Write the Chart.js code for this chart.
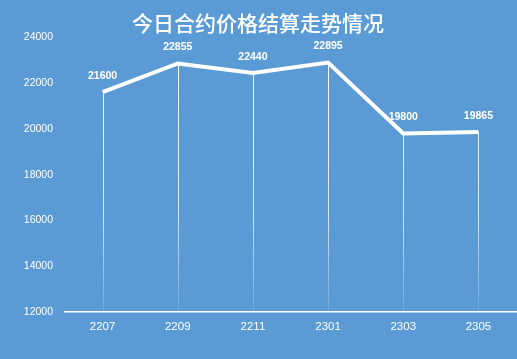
<!DOCTYPE html>
<html>
<head>
<meta charset="utf-8">
<script src="https://cdn.jsdelivr.net/npm/chart.js@4"></script>
<style>
  html, body { margin: 0; padding: 0; background: #5b9bd5; }
  #wrap { width: 517px; height: 359px; }
</style>
</head>
<body>
<div id="wrap"><canvas id="myChart"></canvas></div>
<script>
// Data
const categories = ['2207', '2209', '2211', '2301', '2303', '2305'];
const prices = [21600, 22855, 22440, 22895, 19800, 19865];
const yTicks = [12000, 14000, 16000, 18000, 20000, 22000, 24000];

const bgColor = '#5b9bd5';

// Fill canvas background
const background = {
  id: 'background',
  beforeDraw(chart) {
    const ctx = chart.ctx;
    ctx.save();
    ctx.fillStyle = bgColor;
    ctx.fillRect(0, 0, chart.width, chart.height);
    ctx.restore();
  }
};

// Vertical drop lines from each point to the axis
const dropLines = {
  id: 'dropLines',
  beforeDatasetsDraw(chart) {
    const ctx = chart.ctx;
    const area = chart.chartArea;
    const meta = chart.getDatasetMeta(0);
    const grad = ctx.createLinearGradient(0, area.top, 0, area.bottom);
    grad.addColorStop(0, 'rgba(255,255,255,1)');
    grad.addColorStop(0.65, 'rgba(255,255,255,0.75)');
    grad.addColorStop(1, 'rgba(255,255,255,0.1)');
    ctx.save();
    ctx.strokeStyle = grad;
    ctx.lineWidth = 1;
    meta.data.forEach(pt => {
      const x = Math.round(pt.x) + 0.5;
      ctx.beginPath();
      ctx.moveTo(x, pt.y);
      ctx.lineTo(x, area.bottom);
      ctx.stroke();
    });
    ctx.restore();
  }
};

// Value labels above the points
const valueLabels = {
  id: 'valueLabels',
  afterDatasetsDraw(chart) {
    const ctx = chart.ctx;
    const meta = chart.getDatasetMeta(0);
    ctx.save();
    ctx.fillStyle = '#ffffff';
    ctx.font = 'bold 10.5px "Liberation Sans", Arial, sans-serif';
    ctx.textAlign = 'center';
    ctx.textBaseline = 'middle';
    meta.data.forEach((pt, i) => {
      ctx.fillText(String(prices[i]), pt.x, pt.y - 16);
    });
    ctx.restore();
  }
};

const config = {
  type: 'line',
  data: {
    labels: categories,
    datasets: [{
      data: prices,
      borderColor: '#ffffff',
      borderWidth: 4,
      tension: 0,
      pointRadius: 0,
      pointHoverRadius: 0,
      fill: false,
      borderJoinStyle: 'miter'
    }]
  },
  options: {
    responsive: true,
    maintainAspectRatio: false,
    animation: false,
    events: [],
    layout: { padding: { left: 0, right: 1, top: 0, bottom: 17 } },
    plugins: {
      legend: { display: false },
      tooltip: { enabled: false },
      title: {
        display: true,
        text: '今日合约价格结算走势情况',
        color: '#ffffff',
        font: { family: '"Noto Sans CJK SC", sans-serif', size: 21, weight: '500', lineHeight: 1.2 },
        padding: { top: 10, bottom: 2 }
      }
    },
    scales: {
      x: {
        offset: true,
        grid: { display: false, drawTicks: false },
        border: { display: true, color: '#ffffff', width: 1.5 },
        ticks: {
          color: '#ffffff',
          padding: 8,
          maxRotation: 0,
          font: { family: '"Liberation Sans", Arial, sans-serif', size: 11.5 }
        }
      },
      y: {
        min: 12000,
        max: 24000,
        afterBuildTicks(scale) {
          scale.ticks = yTicks.map(v => ({ value: v }));
        },
        afterFit(scale) { scale.width = 65; },
        grid: { display: false, drawTicks: false },
        border: { display: false },
        ticks: {
          color: '#ffffff',
          padding: 12,
          callback: v => String(v),
          font: { family: '"Liberation Sans", Arial, sans-serif', size: 10.5 }
        }
      }
    }
  },
  plugins: [background, dropLines, valueLabels]
};

var myChart = new Chart(document.getElementById('myChart'), config);
</script>
</body>
</html>
